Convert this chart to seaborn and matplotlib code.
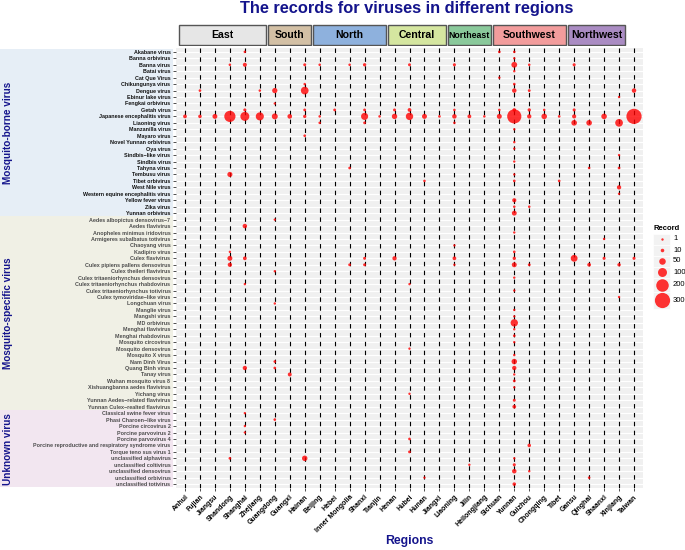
import pandas as pd
import matplotlib
matplotlib.use('Agg')
import matplotlib.pyplot as plt
from matplotlib.patches import Rectangle
import seaborn as sns

plt.rcParams['font.family'] = ['Liberation Sans', 'DejaVu Sans']

# Regions (top strips) and their provinces (x axis)
regions = ['East', 'South', 'North', 'Central', 'Northeast', 'Southwest', 'Northwest']
region_provinces = [
    ['Anhui', 'Fujian', 'Jiangsu', 'Shandong', 'Shanghai', 'Zhejiang'],
    ['Guangdong', 'Guangxi', 'Hainan'],
    ['Beijing', 'Hebei', 'Inner Mongolia', 'Shanxi', 'Tianjin'],
    ['Henan', 'Hubei', 'Hunan', 'Jiangxi'],
    ['Liaoning', 'Jilin', 'Heilongjiang'],
    ['Sichuan', 'Yunnan', 'Guizhou', 'Chongqing', 'Tibet'],
    ['Gansu', 'Qinghai', 'Shaanxi', 'Xinjiang', 'Taiwan'],
]
region_colors = ['#E6E6E6', '#D3C0A5', '#8EB1DD', '#D5E6A0', '#8AC99B', '#F29C9C', '#AA8CC3']
# number of columns each strip box covers as drawn in the original
strip_span = [6, 3, 5, 4, 3, 5, 4]

# Virus groups (left strips) and their viruses (y axis)
groups = ['Mosquito-borne virus', 'Mosquito-specific virus', 'Unknown virus']
borne_viruses = [
    'Akabane virus', 'Banna orbivirus', 'Banna virus', 'Batai virus', 'Cat Que Virus',
    'Chikungunya virus', 'Dengue virus', 'Ebinur lake virus', 'Fengkai orbivirus', 'Getah virus',
    'Japanese encephalitis virus', 'Liaoning virus', 'Manzanilla virus', 'Mayaro virus',
    'Novel Yunnan orbivirus', 'Oya virus', 'Sindbis\u2212like virus', 'Sindbis virus', 'Tahyna virus',
    'Tembusu virus', 'Tibet orbivirus', 'West Nile virus', 'Western equine encephalitis virus',
    'Yellow fever virus', 'Zika virus', 'Yunnan orbivirus',
]
specific_viruses = [
    'Aedes albopictus densovirus\u22127', 'Aedes flavivirus', 'Anopheles minimus iridovirus',
    'Armigeres subalbatus totivirus', 'Chaoyang virus', 'Kadipiro virus', 'Culex flavivirus',
    'Culex pipiens pallens densovirus', 'Culex theileri flavivirus',
    'Culex tritaeniorhynchus densovirus', 'Culex tritaeniorhynchus rhabdovirus',
    'Culex tritaeniorhynchus totivirus', 'Culex tymoviridae\u2212like virus', 'Longchuan virus',
    'Manglie virus', 'Mangshi virus', 'MD orbivirus', 'Menghai flavivirus', 'Menghai rhabdovirus',
    'Mosquito circovirus', 'Mosquito densovirus', 'Mosquito X virus', 'Nam Dinh Virus',
    'Quang Binh virus', 'Tanay virus', 'Wuhan mosquito virus 8', 'Xishuangbanna aedes flavivirus',
    'Yichang virus', 'Yunnan Aedes\u2212related flavivirus', 'Yunnan Culex\u2212realted flavivirus',
]
unknown_viruses = [
    'Classical swine fever virus', 'Phasi Charoen\u2212like virus', 'Porcine circovirus 2',
    'Porcine parvovirus 2', 'Porcine parvovirus 4',
    'Porcine reproductive and respiratory syndrome virus', 'Torque teno sus virus 1',
    'unclassified alphavirus', 'unclassified coltivirus', 'unclassified densovirus',
    'unclassified orbivirus', 'unclassified totivirus',
]
group_viruses = [borne_viruses, specific_viruses, unknown_viruses]
group_fill = ['#E6EEF6', '#F0F0E5', '#F2E6F0']
group_text = ['#111111', '#4D4D4D', '#4D4D4D']

borne_records = {
    'Akabane virus': {'Shanghai': 2, 'Sichuan': 3, 'Yunnan': 2},
    'Banna orbivirus': {'Yunnan': 1},
    'Banna virus': {'Shandong': 2, 'Shanghai': 15, 'Hainan': 5, 'Beijing': 2, 'Inner Mongolia': 2,
                    'Shanxi': 8, 'Hubei': 5, 'Liaoning': 6, 'Yunnan': 38, 'Guizhou': 2, 'Gansu': 6},
    'Batai virus': {'Yunnan': 1},
    'Cat Que Virus': {'Sichuan': 1},
    'Chikungunya virus': {'Hainan': 2, 'Yunnan': 3},
    'Dengue virus': {'Fujian': 3, 'Zhejiang': 2, 'Guangdong': 30, 'Hainan': 72, 'Yunnan': 20,
                     'Guizhou': 4, 'Taiwan': 20},
    'Ebinur lake virus': {'Xinjiang': 1},
    'Fengkai orbivirus': {'Guangdong': 1},
    'Getah virus': {'Shanghai': 6, 'Hainan': 4, 'Hebei': 4, 'Shanxi': 4, 'Henan': 5, 'Hubei': 12,
                    'Liaoning': 2, 'Sichuan': 2, 'Yunnan': 10, 'Guizhou': 8, 'Chongqing': 2, 'Gansu': 6},
    'Japanese encephalitis virus': {'Anhui': 12, 'Fujian': 10, 'Jiangsu': 25, 'Shandong': 160,
                                    'Shanghai': 100, 'Zhejiang': 80, 'Guangdong': 40, 'Guangxi': 22,
                                    'Hainan': 8, 'Beijing': 2, 'Shanxi': 60, 'Tianjin': 2, 'Henan': 32,
                                    'Hubei': 65, 'Hunan': 26, 'Jiangxi': 3, 'Liaoning': 20, 'Jilin': 13,
                                    'Heilongjiang': 2, 'Sichuan': 26, 'Yunnan': 260, 'Guizhou': 18,
                                    'Chongqing': 34, 'Tibet': 3, 'Gansu': 16, 'Shaanxi': 34,
                                    'Taiwan': 300},
    'Liaoning virus': {'Beijing': 2, 'Shanxi': 4, 'Liaoning': 2, 'Gansu': 35, 'Qinghai': 35,
                       'Xinjiang': 72},
    'Manzanilla virus': {'Yunnan': 1},
    'Mayaro virus': {'Hainan': 3},
    'Novel Yunnan orbivirus': {'Yunnan': 1},
    'Oya virus': {'Yunnan': 1},
    'Sindbis\u2212like virus': {'Xinjiang': 1},
    'Sindbis virus': {'Yunnan': 1},
    'Tahyna virus': {'Inner Mongolia': 3, 'Qinghai': 2, 'Xinjiang': 3},
    'Tembusu virus': {'Shandong': 28, 'Yunnan': 1},
    'Tibet orbivirus': {'Hunan': 2, 'Yunnan': 3, 'Tibet': 3},
    'West Nile virus': {'Xinjiang': 18},
    'Western equine encephalitis virus': {'Xinjiang': 1},
    'Yellow fever virus': {'Yunnan': 16},
    'Zika virus': {'Yunnan': 2, 'Guizhou': 2},
    'Yunnan orbivirus': {'Yunnan': 25},
}
specific_records = {
    'Aedes albopictus densovirus\u22127': {'Guangdong': 1},
    'Aedes flavivirus': {'Shanghai': 20},
    'Anopheles minimus iridovirus': {'Yunnan': 1},
    'Armigeres subalbatus totivirus': {'Shaanxi': 1},
    'Chaoyang virus': {'Liaoning': 1},
    'Kadipiro virus': {'Shandong': 1, 'Yunnan': 3},
    'Culex flavivirus': {'Shandong': 26, 'Shanghai': 12, 'Shanxi': 5, 'Henan': 18, 'Liaoning': 12,
                         'Yunnan': 8, 'Gansu': 55, 'Shaanxi': 6, 'Taiwan': 6},
    'Culex pipiens pallens densovirus': {'Shandong': 18, 'Inner Mongolia': 4, 'Shanxi': 5,
                                         'Liaoning': 1, 'Yunnan': 26, 'Guizhou': 4, 'Qinghai': 12,
                                         'Xinjiang': 9},
    'Culex theileri flavivirus': {'Guangdong': 1},
    'Culex tritaeniorhynchus densovirus': {'Yunnan': 1},
    'Culex tritaeniorhynchus rhabdovirus': {'Shanghai': 1, 'Hubei': 1},
    'Culex tritaeniorhynchus totivirus': {'Yunnan': 1},
    'Culex tymoviridae\u2212like virus': {'Xinjiang': 1},
    'Longchuan virus': {'Guangdong': 1},
    'Manglie virus': {'Yunnan': 1},
    'Mangshi virus': {'Yunnan': 1},
    'MD orbivirus': {'Yunnan': 65},
    'Menghai flavivirus': {'Yunnan': 1},
    'Menghai rhabdovirus': {'Yunnan': 3},
    'Mosquito circovirus': {'Yunnan': 1},
    'Mosquito densovirus': {'Hubei': 1},
    'Mosquito X virus': {'Yunnan': 1},
    'Nam Dinh Virus': {'Guangdong': 3, 'Yunnan': 33},
    'Quang Binh virus': {'Shanghai': 18, 'Guangdong': 3, 'Yunnan': 18},
    'Tanay virus': {'Guangxi': 14, 'Yunnan': 1},
    'Wuhan mosquito virus 8': {'Yunnan': 4},
    'Xishuangbanna aedes flavivirus': {'Yunnan': 1},
    'Yichang virus': {'Hubei': 1},
    'Yunnan Aedes\u2212related flavivirus': {'Yunnan': 5},
    'Yunnan Culex\u2212realted flavivirus': {'Yunnan': 12},
}
unknown_records = {
    'Classical swine fever virus': {'Shanghai': 1},
    'Phasi Charoen\u2212like virus': {'Guangdong': 3},
    'Porcine circovirus 2': {'Shanghai': 1},
    'Porcine parvovirus 2': {'Shanghai': 1},
    'Porcine parvovirus 4': {'Hubei': 3},
    'Porcine reproductive and respiratory syndrome virus': {'Guizhou': 10},
    'Torque teno sus virus 1': {'Hubei': 4},
    'unclassified alphavirus': {'Shandong': 3, 'Hainan': 33, 'Yunnan': 1},
    'unclassified coltivirus': {'Jilin': 1, 'Yunnan': 6},
    'unclassified densovirus': {'Yunnan': 20, 'Guizhou': 1},
    'unclassified orbivirus': {'Hunan': 1, 'Qinghai': 2},
    'unclassified totivirus': {'Yunnan': 10},
}

legend_breaks = [1, 10, 50, 100, 200, 300]

# long table for seaborn
provinces = [p for grp in region_provinces for p in grp]
viruses = [v for grp in group_viruses for v in grp]
rows = []
for recs in [borne_records, specific_records, unknown_records]:
    for virus, hits in recs.items():
        for prov, n in hits.items():
            rows.append((virus, prov, n))
df = pd.DataFrame(rows, columns=['virus', 'province', 'record'])
df['col'] = df['province'].map({p: i for i, p in enumerate(provinces)})
df['row'] = df['virus'].map({v: i for i, v in enumerate(viruses)})

S_MIN, S_MAX = 3, 120


def point_size(v):
    return S_MIN + (v - 1) / 299 * (S_MAX - S_MIN)


W, H = 685, 550
fig = plt.figure(figsize=(W / 100, H / 100), dpi=100)


def px_axes(l, t, r, b):
    return fig.add_axes([l / W, 1 - b / H, (r - l) / W, (b - t) / H])


xlim = (-0.6, len(provinces) - 0.4)
ylim = (len(viruses) - 0.4, -0.6)

# left group strips
gax = px_axes(0, 48, 173, 488)
gax.set_xlim(0, 173)
gax.set_ylim(*ylim)
gax.axis('off')
start = 0
for name, members, fill in zip(groups, group_viruses, group_fill):
    top = max(start - 0.5, ylim[1])
    bottom = min(start + len(members) - 0.5, ylim[0])
    gax.add_patch(Rectangle((0, top), 173, bottom - top, facecolor=fill, lw=0))
    gax.text(8, (top + bottom) / 2, name, rotation=90, ha='center', va='center',
             color='#14148C', fontsize=7.2, fontweight='bold')
    start += len(members)

# main bubble panel
ax = px_axes(176, 48, 643, 488)
ax.set_facecolor('#F0F0F0')
ax.set_axisbelow(True)
for j in range(len(provinces)):
    ax.axvline(j, color='black', lw=0.8, ls=(0, (4, 4)), zorder=1)
sns.scatterplot(data=df, x='col', y='row', size='record', sizes=(S_MIN, S_MAX),
                size_norm=(1, 300), color='red', alpha=0.8, linewidth=0,
                legend=False, ax=ax, zorder=3)
ax.set_xlim(*xlim)
ax.set_ylim(*ylim)
ax.set_yticks(range(len(viruses)))
ax.set_yticklabels(viruses, fontsize=3.9, fontweight='bold')
ax.set_xticks(range(len(provinces)))
ax.set_xticklabels(provinces, fontsize=5, fontweight='bold', rotation=45,
                   ha='right', va='top', rotation_mode='anchor')
ax.grid(axis='y', color='white', lw=0.9)
ax.grid(axis='x', visible=False)
ax.tick_params(length=2.5, width=0.6, color='#333333', pad=1.5)
ax.set_xlabel('')
ax.set_ylabel('')
for s in ax.spines.values():
    s.set_visible(False)
colors = [c for c, members in zip(group_text, group_viruses) for _ in members]
for lab, c in zip(ax.get_yticklabels(), colors):
    lab.set_color(c)

# top region strips
sax = px_axes(176, 24, 643, 46)
sax.set_xlim(*xlim)
sax.set_ylim(0, 1)
sax.axis('off')
start = 0
for name, members, fill, span in zip(regions, region_provinces, region_colors, strip_span):
    x0 = start - 0.5 + 0.07
    sax.add_patch(Rectangle((x0, 0.03), span - 0.14, 0.94, facecolor=fill,
                            edgecolor='#555555', lw=1.0))
    sax.text(x0 + (span - 0.14) / 2, 0.5, name, ha='center', va='center',
             fontsize=6.3 if name == 'Northeast' else 7.6, fontweight='bold')
    start += len(members)

# size legend
lax = px_axes(645, 215, 685, 312)
lax.set_xlim(645, 685)
lax.set_ylim(312, 215)
lax.axis('off')
lax.text(653, 228, 'Record', ha='left', va='center', fontsize=5.5, fontweight='bold')
key_heights = [11, 11, 11, 11, 14, 17]
y = 233.5
for v, h in zip(legend_breaks, key_heights):
    lax.add_patch(Rectangle((653, y), 17, h, facecolor='#F2F2F2', edgecolor='white', lw=0.5))
    lax.scatter([661.5], [y + h / 2], s=point_size(v), color='red', alpha=0.8, linewidth=0)
    lax.text(673, y + h / 2, str(v), ha='left', va='center', fontsize=5.5)
    y += h

fig.text(407 / W, 1 - 9 / H, 'The records for viruses in different regions', ha='center',
         va='center', fontsize=11.8, fontweight='bold', color='#14148C')
fig.text(409 / W, 1 - 541 / H, 'Regions', ha='center', va='center', fontsize=8.8,
         fontweight='bold', color='#14148C')

fig.savefig('out.png', dpi=100)
